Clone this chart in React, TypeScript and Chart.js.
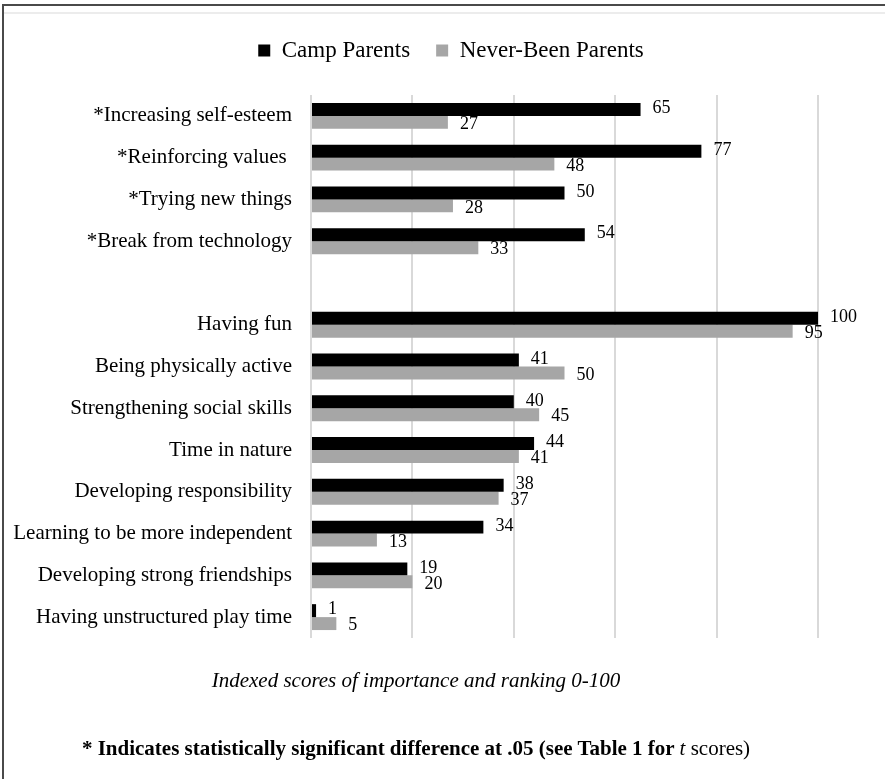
import React, { useEffect, useRef } from 'react';
import { Chart, registerables } from 'chart.js';

Chart.register(...registerables);

const SERIF = "'Liberation Serif', 'Times New Roman', Times, serif";

const categories = [
  '*Increasing self-esteem',
  '*Reinforcing values ',
  '*Trying new things',
  '*Break from technology',
  '',
  'Having fun',
  'Being physically active',
  'Strengthening social skills',
  'Time in nature',
  'Developing responsibility',
  'Learning to be more independent',
  'Developing strong friendships',
  'Having unstructured play time',
];

const campParents = [65, 77, 50, 54, null, 100, 41, 40, 44, 38, 34, 19, 1];
const neverBeenParents = [27, 48, 28, 33, null, 95, 50, 45, 41, 37, 13, 20, 5];

const seriesNames = ['Camp Parents', 'Never-Been Parents'];
const axisTitle = 'Indexed scores of importance and ranking 0-100';

const valueLabels = {
  id: 'valueLabels',
  afterDatasetsDraw(chart: any) {
    const ctx = chart.ctx;
    ctx.save();
    ctx.font = `18px ${SERIF}`;
    ctx.fillStyle = '#000';
    ctx.textAlign = 'left';
    ctx.textBaseline = 'middle';
    chart.data.datasets.forEach((ds: any, di: number) => {
      const meta = chart.getDatasetMeta(di);
      meta.data.forEach((bar: any, i: number) => {
        const v = ds.data[i];
        if (v === null || v === undefined) return;
        const dy = di === 0 ? -1 : 2;
        ctx.fillText(String(v), bar.x + 12, bar.y + dy);
      });
    });
    ctx.restore();
  },
};

// centre the legend over the span the reference uses
const legendShift = {
  id: 'legendShift',
  beforeDraw(chart: any) {
    if (chart.legend) {
      chart.legend.left = 84;
      chart.legend.right = 818;
    }
  },
};

export default function App() {
  const ref = useRef<HTMLCanvasElement>(null);

  useEffect(() => {
    const chart = new Chart(ref.current as HTMLCanvasElement, {
      type: 'bar',
      data: {
        labels: categories,
        datasets: [
          {
            label: seriesNames[0],
            data: campParents,
            backgroundColor: '#000000',
            categoryPercentage: 0.62,
            barPercentage: 1,
          },
          {
            label: seriesNames[1],
            data: neverBeenParents,
            backgroundColor: '#a6a6a6',
            categoryPercentage: 0.62,
            barPercentage: 1,
          },
        ],
      },
      options: {
        indexAxis: 'y',
        responsive: false,
        animation: false,
        layout: { padding: { top: 13, right: 67, bottom: 141, left: 0 } },
        plugins: {
          legend: {
            position: 'top',
            labels: {
              font: { family: SERIF, size: 23 },
              color: '#000',
              boxWidth: 12,
              boxHeight: 12,
              padding: 26,
            },
          },
          tooltip: { enabled: false },
        },
        scales: {
          x: {
            position: 'top',
            min: 0,
            max: 100,
            ticks: { display: false, stepSize: 20 },
            border: { display: false },
            grid: { color: '#d9d9d9', lineWidth: 2, drawTicks: false },
            afterFit: (s: any) => {
              s.height = 23;
            },
          },
          y: {
            ticks: {
              font: { family: SERIF, size: 21 },
              color: '#000',
              padding: 19,
              autoSkip: false,
            },
            border: { display: false },
            grid: { display: false, drawTicks: false },
            afterFit: (s: any) => {
              s.width = 311;
            },
          },
        },
      },
      plugins: [valueLabels, legendShift],
    });
    return () => chart.destroy();
  }, []);

  return (
    <div
      style={{
        position: 'fixed',
        left: 0,
        top: 0,
        width: 885,
        height: 779,
        background: '#fff',
        overflow: 'hidden',
        fontFamily: SERIF,
        color: '#000',
      }}
    >
      <canvas ref={ref} width={885} height={779} style={{ position: 'absolute', left: 0, top: 0 }} />
      <div style={{ position: 'absolute', left: 2, top: 4, width: 883, height: 2, background: '#4a4a4a' }} />
      <div style={{ position: 'absolute', left: 2, top: 4, width: 2, height: 775, background: '#4a4a4a' }} />
      <div style={{ position: 'absolute', left: 4, top: 12, width: 881, height: 2, background: '#ececec' }} />
      <div
        style={{
          position: 'absolute',
          left: 416,
          top: 668,
          transform: 'translateX(-50%)',
          whiteSpace: 'nowrap',
          fontStyle: 'italic',
          fontSize: 21,
          lineHeight: '24px',
        }}
      >
        {axisTitle}
      </div>
      <div
        style={{
          position: 'absolute',
          left: 416,
          top: 736,
          transform: 'translateX(-50%)',
          whiteSpace: 'nowrap',
          fontSize: 21,
          lineHeight: '24px',
        }}
      >
        <b>* Indicates statistically significant difference at .05 (see Table 1 for </b>
        <i>t</i> scores)
      </div>
    </div>
  );
}
